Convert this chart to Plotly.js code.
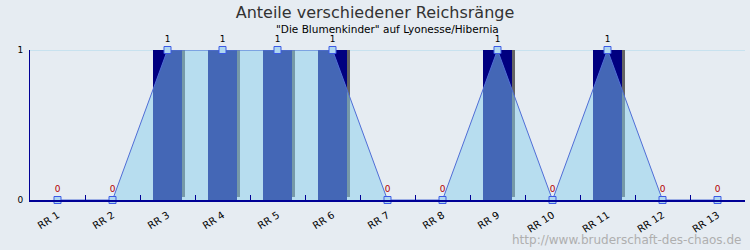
<!DOCTYPE html>
<html>
<head>
<meta charset="utf-8">
<script src="https://cdn.plot.ly/plotly-3.0.1.min.js"></script>
<style>html,body{margin:0;padding:0;background:#E6ECF2;}#chart{width:750px;height:250px;}</style>
</head>
<body>
<div id="chart"></div>
<script>
const categories = ["RR 1","RR 2","RR 3","RR 4","RR 5","RR 6","RR 7","RR 8","RR 9","RR 10","RR 11","RR 12","RR 13"];
const barValues  = [0,0,1,1,1,1,0,0,1,0,1,0,0];
const areaValues = [0,0,1,1,1,1,0,0,1,0,1,0,0];
const titleText = "Anteile verschiedener Reichsränge";
const subtitleText = "\"Die Blumenkinder\" auf Lyonesse/Hibernia";
const urlText = "http://www.bruderschaft-des-chaos.de";

const BW = 29/55;         // bar width in category units
const SX = 3/55;          // shadow x shift
const SY = 3/150;         // shadow y shift
const font = "DejaVu Sans, Verdana, sans-serif";

const shadow = {
  type: 'bar', x: categories,
  y: barValues.map(v => v > 0 ? v : null),
  base: SY, width: BW, offset: -BW/2 + SX,
  marker: {color: 'rgb(100,100,100)', line: {width: 0}},
  cliponaxis: false, hoverinfo: 'skip', showlegend: false
};
const bars = {
  type: 'bar', x: categories, y: barValues,
  width: BW, offset: -BW/2,
  marker: {color: 'rgb(0,0,128)', line: {width: 0}},
  cliponaxis: false, showlegend: false
};
const area = {
  type: 'scatter', mode: 'lines+markers+text', x: categories, y: areaValues,
  fill: 'tozeroy', fillcolor: 'rgba(135,206,235,0.5)',
  line: {color: 'rgb(80,110,215)', width: 1},
  marker: {symbol: 'square', size: 7, color: 'rgb(175,215,240)', line: {color: 'rgb(60,90,230)', width: 1}},
  text: areaValues.map(String), textposition: 'top center',
  textfont: {family: font, size: 9, color: areaValues.map(v => v > 0 ? 'black' : 'rgb(180,0,0)')},
  cliponaxis: false, showlegend: false
};

const layout = {
  width: 750, height: 250,
  margin: {l: 30, r: 5, t: 50, b: 50},
  paper_bgcolor: '#E6ECF2', plot_bgcolor: '#E6ECF2',
  barmode: 'overlay',
  font: {family: font, size: 10, color: 'black'},
  title: {text: titleText, x: 0.5, xanchor: 'center', y: 1 - 12/250, yref: 'container', yanchor: 'middle',
          font: {family: font, size: 16, color: 'rgb(50,50,50)'}},
  xaxis: {
    type: 'category', range: [-0.5, 12.5],
    showline: true, linecolor: 'rgb(0,0,150)', linewidth: 1.5,
    ticks: 'inside', tickson: 'boundaries', ticklen: 5, tickcolor: 'rgb(0,0,150)', tickwidth: 1,
    tickangle: -33, tickfont: {family: font, size: 10, color: 'black'}, ticklabelstandoff: 4,
    showgrid: false, zeroline: false, fixedrange: true
  },
  yaxis: {
    range: [0, 1], tickvals: [0, 1], ticktext: ['0', '1'],
    showline: true, linecolor: 'rgb(0,0,150)', linewidth: 1,
    ticks: 'inside', ticklen: 5, tickcolor: 'rgb(0,0,150)', ticklabelstandoff: 4,
    showgrid: false, zeroline: false,
    tickfont: {family: font, size: 9, color: 'black'}, fixedrange: true
  },
  shapes: [
    {type: 'line', layer: 'below', xref: 'paper', yref: 'y', x0: 0, x1: 1, y0: 1, y1: 1,
     line: {color: 'rgb(170,215,235)', width: 1}}
  ],
  annotations: [
    {text: subtitleText, xref: 'paper', yref: 'paper', x: 0.5, y: 1, yshift: 21.5, showarrow: false,
     xanchor: 'center', yanchor: 'middle', font: {family: font, size: 10.5, color: 'black'}},
    {text: urlText, xref: 'paper', yref: 'paper', x: 1, y: 0, xshift: -2, yshift: -40, showarrow: false,
     xanchor: 'right', yanchor: 'middle', font: {family: font, size: 12, color: 'rgb(175,175,175)'}}
  ]
};

Plotly.newPlot('chart', [shadow, bars, area], layout, {staticPlot: true, displayModeBar: false});
</script>
</body>
</html>
